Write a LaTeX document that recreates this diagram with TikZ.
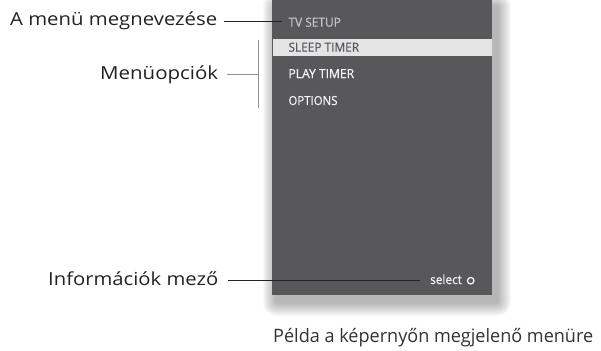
\documentclass[tikz,border=0pt]{standalone}
\usepackage{fontspec}
\setmainfont{Open Sans}
\newfontfamily\menufont[FakeBold=0.6]{Open Sans}
\usetikzlibrary{calc}
\definecolor{panel}{HTML}{58585B}
\definecolor{hilite}{HTML}{E4E4E4}
\definecolor{menutxt}{HTML}{F4F4F4}
\definecolor{titletxt}{HTML}{C4C4C6}
\definecolor{lbl}{HTML}{222222}
\definecolor{capt}{HTML}{333333}
\newcommand{\fitw}[2]{\resizebox{#1pt}{\height}{#2}}
\tikzset{
  lbltext/.style={font=\fontsize{18}{20}\selectfont, text=lbl, inner sep=0pt, anchor=base west},
  menuitem/.style={font=\menufont\fontsize{12.5}{14}\selectfont, text=menutxt, inner sep=0pt, anchor=base west},
  leader/.style={draw=lbl, line width=1pt},
  leadergray/.style={draw=gray!85, line width=1pt},
}
\begin{document}
\begin{tikzpicture}[x=1pt,y=-1pt]
\useasboundingbox (0,0) rectangle (601,350);
% shadow
\foreach \i in {1,...,14}{
  \fill[black, opacity=0.022, rounded corners=\i pt] ($(271.7,0)+(5-\i,7-\i)$) rectangle ($(492,295)+(5+\i,7+\i)$);
}
\fill[panel] (271.7,0) rectangle (492,295);
\fill[hilite] (272.5,39) rectangle (491.5,55.7);
\node[menuitem, text=titletxt] (title) at (288.3,26.7) {\fitw{52.4}{TV SETUP}};
\node[menuitem, text=panel] (sleep) at (288.3,51.7) {\fitw{70.7}{SLEEP TIMER}};
\node[menuitem] (play) at (288.3,78) {\fitw{65.7}{PLAY TIMER}};
\node[menuitem] (opts) at (288.3,105) {\fitw{49}{OPTIONS}};
\node[menuitem] (sel) at (430,284) {\fitw{31.7}{select}};
\node[circle, draw=menutxt, line width=1.3pt, minimum size=6.5pt, inner sep=0pt] (selcirc) at (470.7,280.7) {};
% labels
\node[lbltext] (lmenu) at (10,26) {\fitw{207}{A menü megnevezése}};
\node[lbltext] (lopt) at (100,80) {\fitw{118}{Menüopciók}};
\node[lbltext] (linfo) at (48,285) {\fitw{170}{Információk mező}};
\node[lbltext, text=capt, font=\fontsize{18.5}{20}\selectfont] (cap) at (273,342) {\fitw{320}{Példa a képernyőn megjelenő menüre}};
% leaders
\coordinate (tstart) at (224,21.5);
\coordinate (tend) at (281.7,21.5);
\coordinate (ostart) at (227,75);
\coordinate (btop) at (258.5,40);
\coordinate (bbot) at (258.5,108);
\coordinate (bmid) at (258.5,75);
\coordinate (istart) at (228,280.7);
\coordinate (iend) at (420,280.7);
\draw[leader] (tstart) -- (tend);
\draw[leadergray] (ostart) -- (bmid);
\draw[leadergray] (btop) -- (bbot);
\draw[leader] (istart) -- (iend);
\end{tikzpicture}
\end{document}
